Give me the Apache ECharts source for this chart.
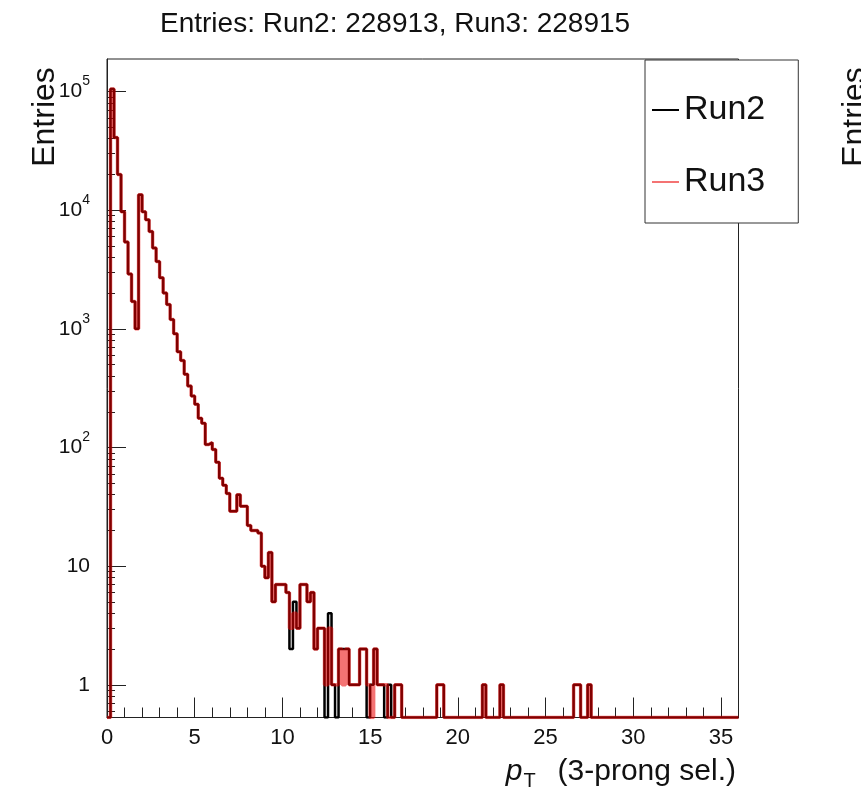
<!DOCTYPE html>
<html>
<head>
<meta charset="utf-8">
<script src="https://cdn.jsdelivr.net/npm/echarts@6/dist/echarts.min.js"></script>
<style>
  html, body { margin: 0; padding: 0; background: #fff; }
  #chart { width: 861px; height: 806px; }
</style>
</head>
<body>
<div id="chart"></div>
<script>
// histogram: 180 bins of 0.2 from 0 to 36, counts
const BIN_WIDTH = 0.2
const X_MIN = 0
const X_MAX = 36
const Y_MIN = 0.53
const Y_MAX = 1.88e5

const run2Counts = [
  0, 105000, 41000, 20000, 9700, 5400, 2900, 1700, 1000, 13500,
  9700, 8300, 6600, 4800, 3700, 2700, 2000, 1600, 1200, 910,
  640, 540, 415, 330, 272, 231, 176, 160, 106, 110,
  96, 75, 55, 48, 41, 29, 29, 40, 32, 32,
  22, 20, 20, 19, 10, 8, 13, 5, 7, 7,
  7, 6, 2, 5, 3, 7, 7, 5, 6, 2,
  3, 3, 0, 4, 1, 0, 2, 2, 2, 1,
  1, 1, 2, 2, 0, 1, 2, 1, 1, 0,
  1, 0, 1, 1, 0, 0, 0, 0, 0, 0,
  0, 0, 0, 0, 1, 1, 0, 0, 0, 0,
  0, 0, 0, 0, 0, 0, 0, 1, 0, 0,
  0, 0, 1, 0, 0, 0, 0, 0, 0, 0,
  0, 0, 0, 0, 0, 0, 0, 0, 0, 0,
  0, 0, 0, 1, 1, 0, 0, 1, 0, 0,
  0, 0, 0, 0, 0, 0, 0, 0, 0, 0,
  0, 0, 0, 0, 0, 0, 0, 0, 0, 0,
  0, 0, 0, 0, 0, 0, 0, 0, 0, 0,
  0, 0, 0, 0, 0, 0, 0, 0, 0, 0
]

const run3Counts = [
  0, 105000, 41000, 20000, 9700, 5400, 2900, 1700, 1000, 13500,
  9700, 8300, 6600, 4800, 3700, 2700, 2000, 1600, 1200, 910,
  640, 540, 415, 330, 272, 231, 176, 160, 106, 110,
  96, 75, 55, 48, 41, 29, 29, 40, 32, 32,
  22, 20, 20, 19, 10, 8, 13, 5, 7, 7,
  7, 6, 3, 4, 3, 7, 7, 5, 6, 2,
  3, 3, 1, 3, 1, 1, 2, 1, 2, 1,
  1, 1, 2, 2, 1, 0, 2, 1, 1, 1,
  0, 0, 1, 1, 0, 0, 0, 0, 0, 0,
  0, 0, 0, 0, 1, 1, 0, 0, 0, 0,
  0, 0, 0, 0, 0, 0, 0, 1, 0, 0,
  0, 0, 1, 0, 0, 0, 0, 0, 0, 0,
  0, 0, 0, 0, 0, 0, 0, 0, 0, 0,
  0, 0, 0, 1, 1, 0, 0, 1, 0, 0,
  0, 0, 0, 0, 0, 0, 0, 0, 0, 0,
  0, 0, 0, 0, 0, 0, 0, 0, 0, 0,
  0, 0, 0, 0, 0, 0, 0, 0, 0, 0,
  0, 0, 0, 0, 0, 0, 0, 0, 0, 0
]

const yMajorTicks = [1, 10, 100, 1000, 10000, 100000]
const yMinorTicks = [
  0.6, 0.7, 0.8, 0.9,
  2, 3, 4, 5, 6, 7, 8, 9,
  20, 30, 40, 50, 60, 70, 80, 90,
  200, 300, 400, 500, 600, 700, 800, 900,
  2000, 3000, 4000, 5000, 6000, 7000, 8000, 9000,
  20000, 30000, 40000, 50000, 60000, 70000, 80000, 90000
]

const titleText = 'Entries: Run2: 228913, Run3: 228915'
const FONT = '"Liberation Sans", Arial, Helvetica, sans-serif'

// left bin edges -> step points; empty bins sit on the frame bottom like ROOT
function toSteps(counts) {
  const pts = counts.map((c, i) => [X_MIN + i * BIN_WIDTH, c > 0 ? c : Y_MIN])
  pts.push([X_MAX, pts[pts.length - 1][1]])
  return pts
}

const chart = echarts.init(document.getElementById('chart'), null, { renderer: 'canvas' })

const option = {
  animation: false,
  backgroundColor: '#fff',
  textStyle: { fontFamily: FONT, color: '#111' },
  title: {
    text: titleText,
    left: 155,
    top: 5,
    textStyle: { fontFamily: FONT, fontSize: 28, fontWeight: 'normal', color: '#111' }
  },
  legend: {
    data: ['Run2', 'Run3'],
    orient: 'vertical',
    left: 645,
    top: 60,
    padding: [30, 33, 21, 7],
    itemGap: 32,
    itemWidth: 27,
    itemHeight: 2,
    icon: 'rect',
    backgroundColor: '#fff',
    borderColor: '#333',
    borderWidth: 1,
    borderRadius: 0,
    textStyle: { fontFamily: FONT, fontSize: 34, color: '#111', lineHeight: 40 }
  },
  grid: {
    left: 107,
    top: 59,
    right: 122.5,
    bottom: 88.5,
    show: true,
    borderColor: '#222',
    borderWidth: 1,
    backgroundColor: 'transparent',
    outerBoundsMode: 'none'
  },
  xAxis: [
    {
      type: 'value',
      min: X_MIN,
      max: X_MAX,
      interval: 5,
      axisLine: { show: true, lineStyle: { color: '#222', width: 1 } },
      axisTick: { inside: true, length: 20, lineStyle: { color: '#222' } },
      axisLabel: { fontSize: 22, color: '#111', margin: 9, showMaxLabel: false },
      splitLine: { show: false }
    },
    {
      type: 'value',
      position: 'bottom',
      min: X_MIN,
      max: X_MAX,
      interval: 1,
      axisLine: { show: false },
      axisTick: { inside: true, length: 10, lineStyle: { color: '#222' } },
      axisLabel: { show: false },
      splitLine: { show: false }
    }
  ],
  yAxis: [
    {
      type: 'log',
      logBase: 10,
      min: Y_MIN,
      max: Y_MAX,
      axisLine: { show: true, lineStyle: { color: '#222', width: 1 } },
      axisTick: { inside: true, length: 19, customValues: yMajorTicks, lineStyle: { color: '#222' } },
      minorTick: { show: false },
      axisLabel: {
        customValues: yMajorTicks,
        margin: 17,
        fontSize: 21,
        color: '#111',
        formatter: function (v) {
          const n = Math.round(Math.log10(v))
          if (n < 2) return String(Math.round(v))
          return '{b|10}{e|' + n + '}'
        },
        rich: {
          b: { fontSize: 21, color: '#111' },
          e: { fontSize: 14, color: '#111', padding: [0, 0, 20, 0] }
        }
      },
      splitLine: { show: false }
    },
    {
      type: 'log',
      logBase: 10,
      position: 'left',
      min: Y_MIN,
      max: Y_MAX,
      axisLine: { show: false },
      axisTick: { inside: true, length: 8, customValues: yMinorTicks, lineStyle: { color: '#222' } },
      minorTick: { show: false },
      axisLabel: { show: false },
      splitLine: { show: false }
    }
  ],
  series: [
    {
      name: 'Run2',
      type: 'line',
      step: 'end',
      data: toSteps(run2Counts),
      symbol: 'none',
      color: '#000',
      lineStyle: { color: '#000', width: 2.5 },
      clip: true,
      z: 3
    },
    {
      name: 'Run3',
      type: 'line',
      step: 'end',
      data: toSteps(run3Counts),
      symbol: 'none',
      color: 'rgba(235,0,0,0.55)',
      lineStyle: { color: 'rgba(235,0,0,0.55)', width: 3.5 },
      clip: true,
      z: 4
    }
  ],
  graphic: [
    {
      type: 'text',
      x: 45,
      y: 117,
      rotation: Math.PI / 2,
      style: { text: 'Entries', fontFamily: FONT, fontSize: 32, fill: '#111', align: 'center', verticalAlign: 'middle' }
    },
    {
      // y title of the neighbouring pad, cut by the canvas edge
      type: 'text',
      x: 855,
      y: 117,
      rotation: Math.PI / 2,
      style: { text: 'Entries', fontFamily: FONT, fontSize: 32, fill: '#111', align: 'center', verticalAlign: 'middle' }
    },
    {
      type: 'text',
      x: 736,
      y: 772,
      style: {
        text: '{p|p}{t|T}{n|(3-prong sel.)}',
        fontFamily: FONT,
        fontSize: 30,
        fill: '#111',
        align: 'right',
        verticalAlign: 'middle',
        rich: {
          p: { fontSize: 30, fontStyle: 'italic', fontFamily: FONT },
          t: { fontSize: 20, fontFamily: FONT, padding: [18, 0, 0, 1] },
          n: { fontSize: 30, fontFamily: FONT, padding: [0, 0, 0, 22] }
        }
      }
    }
  ]
}

chart.setOption(option)
</script>
</body>
</html>
